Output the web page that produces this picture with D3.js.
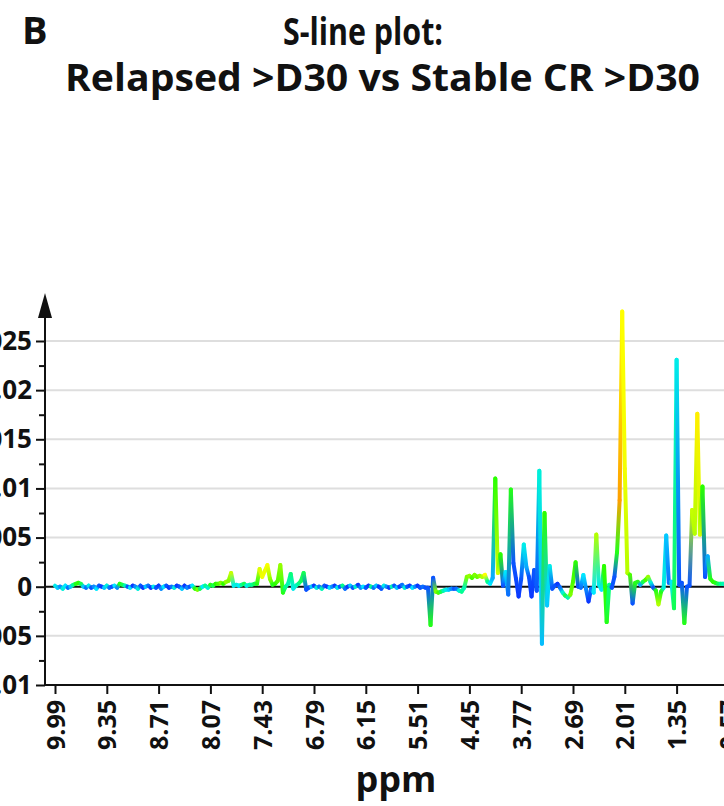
<!DOCTYPE html>
<html>
<head>
<meta charset="utf-8">
<script src="https://cdn.jsdelivr.net/npm/d3@7"></script>
<style>
  html, body { margin: 0; padding: 0; background: #fff; overflow: hidden; }
  svg { display: block; }
  text { font-family: "Open Sans", "Noto Sans", sans-serif; font-weight: 700; fill: #111; }
</style>
</head>
<body>
<svg id="chart" width="724" height="806"></svg>
<script>
// ppm label shown at every 20th spectral variable
const ppmLabels = ["9.99", "9.35", "8.71", "8.07", "7.43", "6.79", "6.15", "5.51",
                   "4.45", "3.77", "2.69", "2.01", "1.35", "0.57"];
const varsPerTick = 20;

// y-axis major and minor ticks (loading values)
const yMajor = [-0.01, -0.005, 0, 0.005, 0.01, 0.015, 0.02, 0.025];
const yMinor = [-0.0075, -0.0025, 0.0025, 0.0075, 0.0125, 0.0175, 0.0225];

// S-line loadings per spectral variable, in units of 1e-4
const loadings = [
  // 0-27
  1, -1, 0, -2, 1, -1, 0, 2, 3, 4, 3, 0, -1, 1, -1, 0, -2, 1, 0, -1, 1, -1, 0, 1, -1, 3, 2, 1,
  // 28-53
  0, -1, 1, 0, -2, 1, -1, 0, 1, -1, 0, -1, 1, -2, 0, 1, -1, 0, -1, 1, 0, -2, 1, -1, 0, 1,
  // 54-77
  -2, -3, -2, 0, 1, -1, 2, 1, 3, 3, 4, 3, 5, 6, 14, 1, 2, 1, 2, 3, 1, 2, 2, 3,
  // 78-97 (aromatic region)
  3, 18, 10, 16, 22, 8, 2, 3, 6, 22, -6, 0, 3, 13, -2, 1, 3, 6, 14, -3,
  // 98-143
  -1, 0, 1, -1, 0, -2, 1, 0, -1, 0, 1, -1, 0, 1, -2, 0, 1, -1, 0, 2, -1, 0, -1, 1, 0,
  -1, 1, 0, -2, 1, 0, -1, 0, 1, -1, 0, 2, -1, 0, 1, -1, 0, 1, -1, 0, -1,
  // 144-158
  -1, -39, 9, -5, -6, -5, -4, -3, -3, -2, -2, -2, -4, -5, -1,
  // 159-176
  10, 11, 9, 12, 10, 11, 10, 12, 5, 3, 9, 110, 14, 33, 1, 15, -8, 99,
  // 177-199
  24, 8, -10, 8, 43, 20, 10, -10, 17, -4, 118, -58, 75, -19, 21, -2, 1, 3, -1, -6, -9, -11, -8,
  // 200-221
  5, 25, 0, -1, 12, -2, -15, -2, -6, 53, 2, -3, 21, -36, 2, -1, 10, 35, 88, 280, 120, 14,
  // 222-259
  12, -17, 4, 5, 2, 5, 7, 10, 4, -1, -4, -18, -5, -1, 52, 4, 5, -22, 231, 2, 4, -37, 0, 1,
  78, 54, 176, 53, 102, 10, 31, 8, 5, 4, 3, 3, 3, 2
];

// |p(corr)| per variable, used for the line colour (0 = blue ... 1 = orange)
const corr = [
  // 0-27
  .38, .3, .2, .4, .35, .15, .3, .5, .6, .62, .55, .3, .15, .38, .1, .2, .35, .1, .05, .3, .4, .15, .1, .35, .2, .6, .55, .45,
  // 28-53
  .1, .35, .05, .2, .4, .1, .05, .3, .15, .05, .38, .1, .05, .2, .35, .1, .05, .15, .4, .05, .1, .3, .05, .2, .1, .35,
  // 54-77
  .6, .7, .55, .35, .5, .4, .6, .55, .62, .65, .7, .62, .72, .7, .78, .38, .4, .35, .5, .55, .38, .45, .5, .55,
  // 78-97
  .6, .82, .86, .85, .87, .72, .6, .62, .66, .72, .6, .5, .45, .52, .38, .42, .5, .55, .55, .1,
  // 98-143
  .1, .3, .05, .4, .15, .45, .1, .05, .35, .2, .05, .38, .1, .5, .15, .05, .3, .1, .42, .05, .2, .35, .1, .05, .5,
  .15, .3, .05, .1, .38, .2, .05, .45, .1, .3, .05, .15, .4, .1, .05, .35, .2, .05, .1, .15, .1,
  // 144-158
  .1, .6, .1, .7, .65, .55, .45, .38, .3, .2, .1, .15, .4, .5, .45,
  // 159-176
  .7, .72, .65, .7, .68, .72, .75, .88, .5, .35, .25, .62, .8, .62, .1, .35, .15, .6,
  // 177-199
  .1, .08, .05, .1, .38, .25, .1, .05, .1, .1, .4, .28, .62, .3, .38, .1, .1, .05, .15, .4, .55, .45, .7,
  // 200-221
  .65, .62, .1, .15, .35, .2, .05, .15, .35, .75, .38, .35, .62, .6, .5, .1, .1, .6, 1.0, .88, .86, .75,
  // 222-259
  .65, .1, .6, .6, .25, .55, .65, .72, .4, .1, .6, .75, .6, .4, .3, .15, .35, .55, .38, .1, .1, .6, .1, .1,
  .78, .75, .9, .8, .62, .1, .25, .6, .62, .6, .55, .5, .45, .4
];
const loadingUnit = 1e-4;

const svg = d3.select("#chart");
const W = 724;

const axisX = 45;      // position of the y axis line
const axisBottomY = 685;

const x = d3.scaleLinear()
  .domain([0, varsPerTick * (ppmLabels.length - 1)])
  .range([55, 55 + 51.8 * (ppmLabels.length - 1)]);
const y = d3.scaleLinear().domain([-0.01, 0.025]).range([axisBottomY, 341]);

const colour = d3.scaleLinear()
  .domain([0, .2, .35, .5, .62, .75, .88, 1])
  .range(["#0a1cff", "#0a8cff", "#00e8ff", "#00ff90", "#2aff00", "#b4ff00", "#ffff00", "#ffa000"])
  .clamp(true);

// Titles
svg.append("text").attr("x", 22).attr("y", 44).style("font-size", "38px")
  .text("B");
svg.append("text").attr("x", 283).attr("y", 45).style("font-size", "38px")
  .attr("textLength", 160).attr("lengthAdjust", "spacingAndGlyphs")
  .text("S-line plot:");
svg.append("text").attr("x", 65).attr("y", 91).style("font-size", "38px")
  .attr("textLength", 635).attr("lengthAdjust", "spacingAndGlyphs")
  .text("Relapsed >D30 vs Stable CR >D30");

// Horizontal grid lines
svg.append("g").selectAll("line")
  .data(yMajor.filter(v => v !== 0 && v !== -0.01))
  .join("line")
  .attr("x1", axisX).attr("x2", W)
  .attr("y1", d => y(d)).attr("y2", d => y(d))
  .attr("stroke", "#dedede").attr("stroke-width", 2);

// Zero line
svg.append("line")
  .attr("x1", axisX).attr("x2", W)
  .attr("y1", y(0)).attr("y2", y(0))
  .attr("stroke", "#111").attr("stroke-width", 2);

// Spectrum drawn segment by segment, each with a colour gradient
const defs = svg.append("defs");
const n = Math.min(loadings.length, corr.length);
const segs = d3.range(n - 1).map(i => ({
  x1: x(i), y1: y(loadings[i] * loadingUnit),
  x2: x(i + 1), y2: y(loadings[i + 1] * loadingUnit),
  c1: colour(corr[i]), c2: colour(corr[i + 1]), i
}));
segs.forEach(s => {
  const g = defs.append("linearGradient")
    .attr("id", "seg" + s.i)
    .attr("gradientUnits", "userSpaceOnUse")
    .attr("x1", s.x1).attr("y1", s.y1).attr("x2", s.x2).attr("y2", s.y2);
  g.append("stop").attr("offset", 0).attr("stop-color", s.c1);
  g.append("stop").attr("offset", 1).attr("stop-color", s.c2);
});
svg.append("g").selectAll("line")
  .data(segs)
  .join("line")
  .attr("x1", d => d.x1).attr("y1", d => d.y1)
  .attr("x2", d => d.x2).attr("y2", d => d.y2)
  .attr("stroke", d => `url(#seg${d.i})`)
  .attr("stroke-width", 4)
  .attr("stroke-linecap", "round");

// X axis
const xAxis = svg.append("g")
  .attr("transform", `translate(0,${axisBottomY})`)
  .call(d3.axisBottom(x)
    .tickValues(d3.range(0, varsPerTick * ppmLabels.length, varsPerTick))
    .tickFormat((d, i) => ppmLabels[i])
    .tickSize(9));
xAxis.select(".domain").remove();
xAxis.selectAll(".tick line").attr("stroke", "#111").attr("stroke-width", 2);
xAxis.selectAll(".tick text")
  .attr("transform", "rotate(-90)")
  .attr("x", -15).attr("y", 0).attr("dy", "0.36em")
  .style("text-anchor", "end")
  .style("font-size", "25px").style("font-family", "'Open Sans', sans-serif").style("font-weight", 700)
  .attr("fill", "#111");
svg.append("line")
  .attr("x1", axisX - 1).attr("x2", W)
  .attr("y1", axisBottomY).attr("y2", axisBottomY)
  .attr("stroke", "#111").attr("stroke-width", 2);

// Y axis: minor ticks, then major ticks with labels
const yMinorAxis = svg.append("g").attr("transform", `translate(${axisX},0)`)
  .call(d3.axisLeft(y).tickValues(yMinor).tickSize(6).tickFormat(""));
yMinorAxis.select(".domain").remove();
yMinorAxis.selectAll(".tick line").attr("stroke", "#111").attr("stroke-width", 2);

const yAxis = svg.append("g").attr("transform", `translate(${axisX},0)`)
  .call(d3.axisLeft(y).tickValues(yMajor).tickSize(9).tickPadding(4)
    .tickFormat(d => d === 0 ? "0" : String(+d.toFixed(4))));
yAxis.select(".domain").remove();
yAxis.selectAll(".tick line").attr("stroke", "#111").attr("stroke-width", 2);
yAxis.selectAll(".tick text")
  .style("font-size", "26px").style("font-family", "'Open Sans', sans-serif").style("font-weight", 700)
  .attr("fill", "#111");

// Y axis line with arrow head
svg.append("line")
  .attr("x1", axisX).attr("x2", axisX)
  .attr("y1", axisBottomY + 1).attr("y2", 316)
  .attr("stroke", "#111").attr("stroke-width", 2);
svg.append("path")
  .attr("d", `M${axisX},293 L${axisX - 7},318 L${axisX + 7},318 Z`)
  .attr("fill", "#111");

// X axis title
svg.append("text")
  .attr("x", 396).attr("y", 792)
  .attr("text-anchor", "middle")
  .style("font-size", "36px")
  .text("ppm");
</script>
</body>
</html>
